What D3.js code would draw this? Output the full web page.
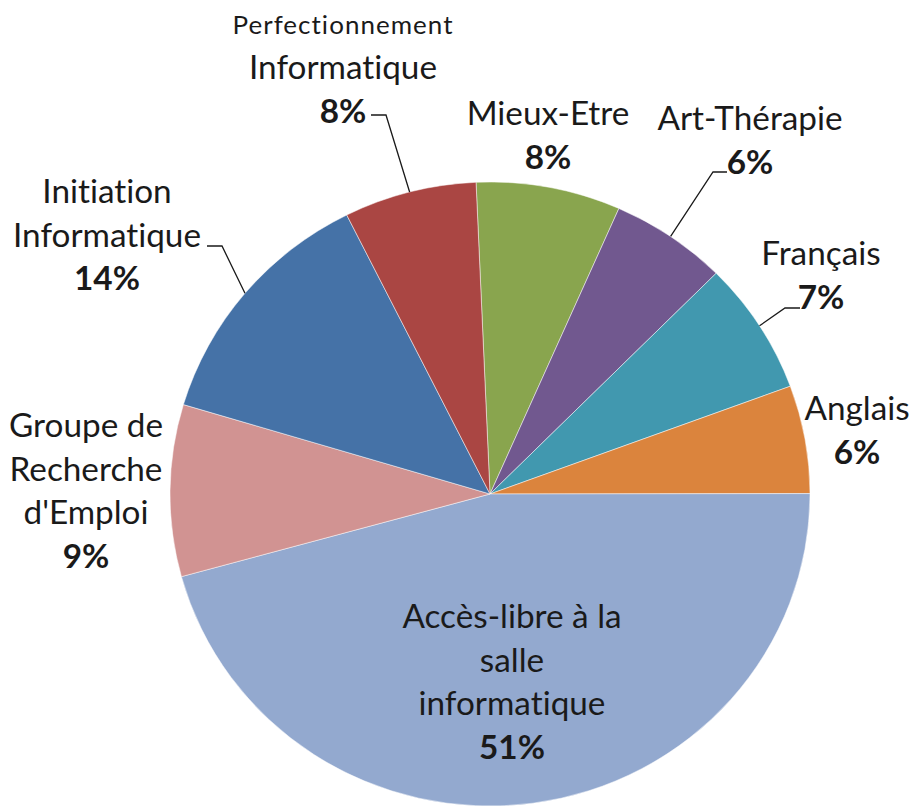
<!DOCTYPE html>
<html><head><meta charset="utf-8">
<script src="https://cdn.jsdelivr.net/npm/d3@7"></script>
<style>
html,body{margin:0;padding:0;background:#fff;}
svg{display:block;}
text{font-family:Lato,"Open Sans",sans-serif;fill:#1a1a1a;font-variant-ligatures:none;font-feature-settings:"liga" 0,"clig" 0;}
</style></head>
<body>
<svg id="chart" width="911" height="812"></svg>
<script>
// ---- data ----
const categories = ["Mieux-Etre","Art-Thérapie","Français","Anglais","Accès-libre à la salle informatique","Groupe de Recherche d'Emploi","Initiation Informatique","Perfectionnement Informatique"];
const values = [7.3, 5.9, 6.9, 5.6, 45.8, 8.9, 13.0, 6.7];
const percentLabels = ["8%","6%","7%","6%","51%","9%","14%","8%"];
const labelLines = [["Mieux-Etre"],["Art-Thérapie"],["Français"],["Anglais"],["Accès-libre à la","salle","informatique"],["Groupe de","Recherche","d'Emploi"],["Initiation","Informatique"],["Perfectionnement","Informatique"]];
const colors = ["#89A54E","#71588F","#4198AF","#DB843D","#93A9CF","#D19392","#4572A7","#AA4643"];

// ---- layout ----
const W = 911, H = 812;
const cx = 490, cy = 494, ry = 312, rx = 320;
const startDeg = -2.5;
const lineH = 43.5;
const labelPos = [
  {x:548, y:125},
  {x:750, y:130, leader:{x:727, y:172, dx:-14}},
  {x:821, y:265, leader:{x:800, y:308, dx:-15}},
  {x:857, y:420},
  {x:512, y:628},
  {x:86,  y:437},
  {x:107, y:203, leader:{x:207, y:246, dx:15}},
  {x:343, y:34,  leader:{x:371, y:115, dx:15}, smallFirst:true}
];

const svg = d3.select("#chart");

const probe = svg.append("text").attr("font-size",100).text("Informatique");
const wProbe = probe.node().getComputedTextLength();
probe.remove();
const fs = Math.round(188 / wProbe * 100 * 10) / 10;

const pie = d3.pie().sort(null).value(d => d)
  .startAngle(startDeg * Math.PI/180)
  .endAngle((startDeg + 360) * Math.PI/180);
const arcs = pie(values);
const arc = d3.arc().innerRadius(0).outerRadius(ry);
const edge = d3.arc().innerRadius(ry).outerRadius(ry);

const g = svg.append("g").attr("transform", `translate(${cx},${cy}) scale(${rx/ry},1)`);
g.selectAll("path").data(arcs).join("path")
  .attr("d", arc)
  .attr("fill", (d,i) => colors[i])
  .attr("stroke", "#ffffff")
  .attr("stroke-opacity", 0.6)
  .attr("stroke-width", 0.8);

arcs.forEach((a, i) => {
  const lp = labelPos[i];
  if (!lp.leader) return;
  const c = edge.centroid(a);
  const px = cx + c[0] * rx/ry, py = cy + c[1];
  const ex = lp.leader.x + lp.leader.dx, ey = lp.leader.y;
  svg.append("polyline")
    .attr("points", `${px},${py} ${ex},${ey} ${lp.leader.x},${lp.leader.y}`)
    .attr("fill","none").attr("stroke","#1a1a1a").attr("stroke-width",1.3);
});

labelLines.forEach((lines, i) => {
  const lp = labelPos[i];
  const t = svg.append("text").attr("text-anchor","middle").attr("font-size", fs);
  let y = lp.y;
  lines.forEach((ln, k) => {
    const ts = t.append("tspan").attr("x", lp.x).attr("y", y).text(ln);
    if (lp.smallFirst && k === 0) {
      ts.attr("font-size", fs * 0.78);
      const w = ts.node().getComputedTextLength();
      ts.attr("letter-spacing", ((220 - w) / (ln.length - 1)).toFixed(2));
      y += lineH + 1.5;
    } else {
      y += lineH;
    }
  });
  t.append("tspan").attr("x", lp.x).attr("y", y).attr("font-weight","bold").text(percentLabels[i]);
});
</script>
</body></html>
